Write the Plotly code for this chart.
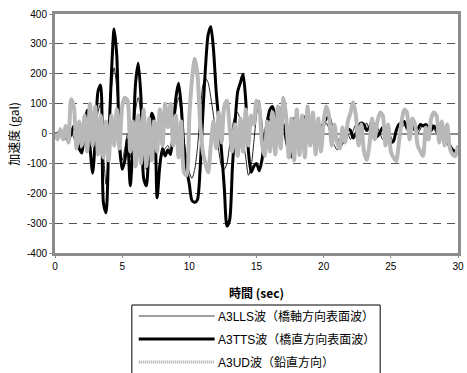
import numpy as np
import plotly.graph_objects as go

# Sample times (s), 0.2 s step
time_sec = np.round(np.arange(0, 30.0001, 0.2), 1)

# Accelerations (gal) for the three records
a3lls = [
    0, 5, 0, -5, 15, 20, 5, -15, -35, -30, -10, 35, 55, 20, -40, 10, 70, 100, -60, -170, -40, 150, 220, 150, 0,
    -90, -50, 0, -80, -20, 80, 120, 60, -80, -120, -40, 40, 20, -140, -100, -70, -50, -40, -60, 0, 80, 120, 60, -20, -80,
    -130, -150, -120, -50, 60, 160, 185, 170, 120, 60, 0, -60, -110, -120, -100, -40, 20, 60, 70, 40, -20, -80, -140, -110, -30,
    60, 110, 40, -30, 10, 50, 30, -10, 20, 80, 115, 40, -20, 20, 55, 10, -30, 15, 35, 20, -10, 10, 30, 10, 0,
    20, 35, 15, -20, -40, -55, -40, -10, 10, 0, -20, 10, 30, 20, 0, 15, 35, 10, -15, 5, 20, 0, -20, -10, 10,
    -10, -30, 0, 25, 20, 30, 10, 25, 40, 20, 0, 15, 30, 10, 20, 35, 20, 0, 10, -5, -20, -35, -50, -55, -60,
    -55,
]
a3tts = [
    0, -5, -5, -10, -15, -20, 0, 25, -10, -50, -65, 10, 78, -40, -133, -20, 140, 162, -230, -265, -30, 200, 350, 260, -40,
    -120, -90, -20, -175, -40, 170, 235, 120, -150, -175, -40, 68, 40, -215, -110, -50, -75, -55, -70, 10, 120, 168, 90, -50, -120,
    -170, -225, -230, -222, -120, 60, 220, 330, 357, 280, 140, 40, -60, -180, -310, -290, -120, 30, 140, 170, 198, 110, -60, -130, -110,
    -100, -125, -90, -20, 40, 80, 90, 50, 0, 20, 30, -20, -60, -78, -40, -20, 20, 45, 55, 50, 10, -10, 15, 30, 20,
    35, 50, 55, 20, -10, -20, -40, -30, 0, 15, 10, -15, 0, 25, 35, 30, 10, 20, 40, 20, -10, 5, 20, 10, -15,
    -30, -25, 10, 30, 35, 40, 20, 40, 35, 10, 15, 30, 25, 30, 20, 10, 25, 15, 0, 10, -5, -20, -40, -55, -60,
    -65,
]
a3ud = [
    0, -20, 15, -20, 25, -30, 115, 90, -50, 40, -40, 60, -60, 100, -40, 90, -70, 60, -80, 40, -90, 60, -40, 80, -50,
    90, 120, 110, -60, 40, -110, 60, -100, 80, -110, 50, -90, 40, -60, 80, -40, 100, 20, 100, -40, 60, -80, 40, -130, -140,
    60, 180, 250, 200, 40, -60, -100, -130, -40, 40, -50, 70, -30, 90, 110, 20, -60, 30, -75, 50, -60, 80, -40, 60, 30,
    110, 90, -30, -75, 40, -60, 70, -70, 90, -50, 120, 60, -80, 50, -90, 80, -72, 60, -80, 90, -40, 70, -70, 50, -60,
    40, 90, 60, -40, 30, -30, -50, 20, -30, 40, 70, 105, 60, -40, 30, -60, -89, -40, 50, -20, 40, 70, 60, -40, 30,
    -60, -80, -92, -30, 40, 80, 70, -20, 50, 30, -40, -60, -75, 20, -20, 50, 70, 60, -30, 40, -40, 30, -50, -70, -75,
    -40,
]

series_names = ["A3LLS波（橋軸方向表面波）", "A3TTS波（橋直方向表面波）", "A3UD波（鉛直方向）"]
y_ticks = [-400, -300, -200, -100, 0, 100, 200, 300, 400]
y_tick_labels = ["-400", "-300", "-200", "-100", "0", "100", "200", "300", "400"]
x_ticks = [0, 5, 10, 15, 20, 25, 30]

# Plot line styles and matching legend sample styles
styles = [
    dict(color="#202020", width=1),
    dict(color="#000000", width=3),
    dict(color="#b8b8b8", width=4),
]
legend_styles = [
    dict(color="#404040", width=1),
    dict(color="#000000", width=3),
    dict(color="#a8a8a8", width=3, dash="1px,1px"),
]

W, H = 467, 373
ML, MR, MT, MB = 55, 3, 14, 120
PW, PH = W - ML - MR, H - MT - MB

def px(x):
    return (x - ML) / PW

def py(y):
    return (H - MB - y) / PH

fig = go.Figure()
for name, vals, st in zip(series_names, [a3lls, a3tts, a3ud], styles):
    fig.add_trace(go.Scatter(x=time_sec, y=vals, mode="lines", name=name,
                             line=dict(shape="spline", smoothing=0.7, **st),
                             showlegend=False))

font_main = "Liberation Sans, Arial, 'Noto Sans CJK JP', sans-serif"
font_cjk = "'Noto Sans CJK JP', sans-serif"

fig.update_layout(
    width=W, height=H,
    margin=dict(l=ML, r=MR, t=MT, b=MB, pad=0),
    paper_bgcolor="white", plot_bgcolor="white",
    font=dict(family=font_main, color="#000000", size=10),
    xaxis=dict(range=[0, 30], tickvals=x_ticks, showgrid=False, zeroline=False,
               showline=True, linecolor="#8c8c8c", linewidth=3, mirror=True,
               ticks="outside", ticklen=2, tickcolor="#8c8c8c",
               tickfont=dict(size=10, family=font_main)),
    yaxis=dict(range=[-400, 400], tickvals=y_ticks, ticktext=y_tick_labels,
               showgrid=True, gridcolor="#555555", gridwidth=1, griddash="8px,6px",
               zeroline=True, zerolinecolor="#8c8c8c", zerolinewidth=2,
               showline=True, linecolor="#8c8c8c", linewidth=3, mirror=True,
               ticks="outside", ticklen=3, tickcolor="#8c8c8c",
               tickfont=dict(size=10, family=font_main)),
)

annotations = [
    dict(text="<b>時間 (sec)</b>", x=px(259), y=py(292), xref="paper", yref="paper",
         showarrow=False, font=dict(size=12, family=font_cjk), xanchor="center", yanchor="middle"),
    dict(text="加速度 (gal)", x=px(12), y=py(134), xref="paper", yref="paper",
         showarrow=False, textangle=-90, font=dict(size=12, family=font_cjk),
         xanchor="center", yanchor="middle"),
]

# Legend drawn by hand: framed box with long line samples
shapes = [dict(type="rect", xref="paper", yref="paper",
               x0=px(133), x1=px(385), y0=py(385), y1=py(305),
               line=dict(color="#000000", width=1), fillcolor="white", layer="above")]
row_y = [316, 339, 362]
for name, st, ry in zip(series_names, legend_styles, row_y):
    shapes.append(dict(type="line", xref="paper", yref="paper",
                       x0=px(140), x1=px(217), y0=py(ry), y1=py(ry),
                       line=dict(color=st["color"], width=st["width"], dash=st.get("dash", "solid")),
                       layer="above"))
    annotations.append(dict(text=name, x=px(218), y=py(ry), xref="paper", yref="paper",
                            showarrow=False, xanchor="left", yanchor="middle",
                            font=dict(size=12, family=font_main)))

fig.update_layout(shapes=shapes, annotations=annotations)
fig.write_html("out.html")
